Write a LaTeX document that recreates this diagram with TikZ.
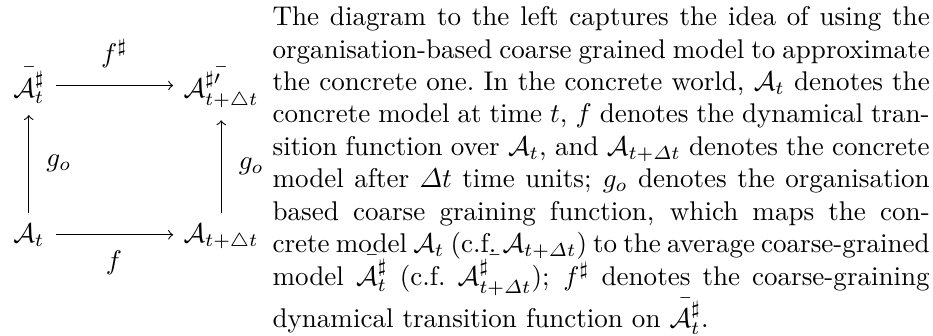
\documentclass[tikz,border=0pt]{standalone}
\usepackage{amsmath}
\usepackage{amssymb}
\usepackage{tikz}
\usetikzlibrary{positioning}
\tikzset{
  obj/.style={inner sep=0pt, anchor=base west},
  lbl/.style={inner sep=0pt},
  arrow/.style={->, line width=0.4pt},
  hline/.style={->, line width=0.4pt, shorten <=4pt, shorten >=3.7pt},
  vline/.style={->, line width=0.4pt, shorten <=3.8pt, shorten >=4pt},
  para/.style={inner sep=0pt, anchor=north west, text width=243pt,
    align=justify, execute at begin node={\lineskiplimit=-2.5pt}}
}

\begin{document}
\begin{tikzpicture}[x=1pt, y=1pt]
  \useasboundingbox (0,0) rectangle (345,124);
  \node[obj] (at) at (4.7,34.5) {$\mathcal{A}_t$};
  \node[obj] (atd) at (67.7,34.5) {$\mathcal{A}_{t+\triangle t}$};
  \node[obj] (ast) at (4.7,88.1) {$\bar{\mathcal{A}^\sharp_t}$};
  \node[obj] (astd) at (67.7,88.1) {$\bar{\mathcal{A}^{\sharp\prime}_{t+\triangle t}}$};

  \draw[hline] (at.east) -- node[lbl, below=5.8pt] {$f$} (at.east -| atd.west);
  \draw[hline] (ast.east) -- node[lbl, above=6.5pt] {$f^\sharp$} (ast.east -| astd.west);
  \draw[vline] (at.north) -- node[lbl, right=6.3pt] {$g_o$} (at.north |- ast.south);
  \draw[vline] (atd.north) -- node[lbl, right=6.3pt] {$g_o$} (atd.north |- astd.south);

  \node[para] (txt) at (100.6,121.8) {The diagram to the left captures the idea of using the\linebreak organisation-based coarse grained model to approximate\linebreak the concrete one.\ In the concrete world, $\mathcal{A}_t$ denotes the\linebreak concrete model at time $t$, $f$ denotes the dynamical tran-\linebreak sition function over $\mathcal{A}_t$, and $\mathcal{A}_{t+\varDelta t}$ denotes the concrete\linebreak model after $\varDelta t$ time units; $g_o$ denotes the organisation\linebreak based coarse graining function, which maps the con-\linebreak crete model $\mathcal{A}_t$ (c.f.\ $\mathcal{A}_{t+\varDelta t}$) to the average coarse-grained\linebreak model $\bar{\mathcal{A}^\sharp_t}$ (c.f.\ $\bar{\mathcal{A}^\sharp_{t+\varDelta t}}$); $f^\sharp$ denotes the coarse-graining\linebreak dynamical transition function on $\bar{\mathcal{A}^\sharp_t}$.};
\end{tikzpicture}
\end{document}
